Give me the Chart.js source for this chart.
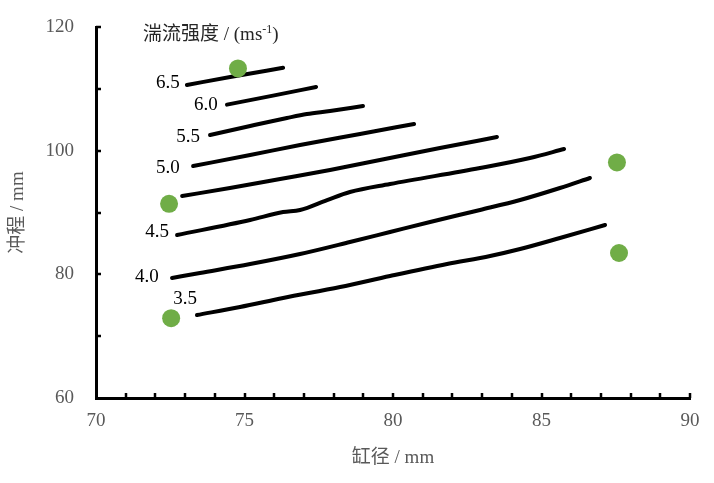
<!DOCTYPE html>
<html><head><meta charset="utf-8">
<script src="https://cdn.jsdelivr.net/npm/chart.js@4/dist/chart.umd.min.js"></script>
<style>html,body{margin:0;padding:0;background:#fff}canvas{display:block}</style>
</head><body>
<canvas id="c" width="714" height="483"></canvas>
<script>
// ---- data ----
const xRange = [70, 90];
const yRange = [60, 120];
const xTickStep = 5, yTickStep = 20;
const xMinorStep = 1, yMinorStep = 10;
const xAxisTitle = '缸径 / mm';
const yAxisTitle = '冲程 / mm';
const legendTitle = '湍流强度 / (ms';
const legendSup = '-1';

const pointsX = [74.78, 72.46, 72.53, 87.54, 87.61];
const pointsY = [113.3, 91.4, 72.9, 98.1, 83.45];

const line65X = [73.06, 74.61, 76.30];
const line65Y = [110.62, 112.0, 113.4];
const line60X = [74.41, 75.96, 77.41];
const line60Y = [107.45, 108.9, 110.30];
const line55X = [73.84, 75.19, 76.43, 77.10, 77.88, 78.99];
const line55Y = [102.54, 103.99, 105.28, 105.92, 106.42, 107.23];
const line50X = [73.27, 75.19, 76.87, 78.89, 80.71];
const line50Y = [97.52, 99.30, 100.92, 102.70, 104.31];
const line47X = [72.90, 74.51, 76.20, 77.88, 79.56, 81.58, 83.50];
const line47Y = [92.67, 93.96, 95.42, 96.88, 98.49, 100.43, 102.21];
const line45X = [72.73, 75.19, 76.30, 76.87, 77.78, 78.55, 79.90, 82.93, 84.61, 85.76];
const line45Y = [86.36, 88.79, 90.08, 90.41, 92.02, 93.32, 94.61, 97.20, 98.82, 100.27];
const line40X = [72.56, 73.50, 75.19, 76.87, 78.55, 79.90, 81.25, 82.93, 84.28, 85.62, 86.63];
const line40Y = [79.41, 80.22, 81.67, 83.29, 85.23, 86.85, 88.47, 90.41, 92.02, 93.96, 95.58];
const line35X = [73.40, 74.85, 76.30, 78.22, 79.90, 81.82, 83.27, 84.28, 85.62, 87.14];
const line35Y = [73.42, 74.72, 76.17, 77.95, 79.73, 81.67, 82.97, 84.10, 85.88, 87.98];

const contourLabels = ['6.5', '6.0', '5.5', '5.0', '4.5', '4.0', '3.5'];
const contourLabelX = [72.42, 73.70, 73.10, 72.42, 72.06, 71.71, 73.0];
const contourLabelY = [110.95, 107.39, 102.21, 97.2, 86.85, 79.57, 76.01];

// ---- build datasets ----
const zip = (xs, ys) => xs.map((x, i) => ({x, y: ys[i]}));
const lineSets = [
  [line65X, line65Y], [line60X, line60Y], [line55X, line55Y], [line50X, line50Y],
  [line47X, line47Y], [line45X, line45Y], [line40X, line40Y], [line35X, line35Y]
];
const datasets = [{
  label: 'points',
  data: zip(pointsX, pointsY),
  showLine: false,
  pointRadius: 9,
  pointHoverRadius: 9,
  pointBackgroundColor: '#70AD47',
  pointBorderWidth: 0,
  borderColor: '#70AD47'
}].concat(lineSets.map((s, i) => ({
  label: 'c' + i,
  data: zip(s[0], s[1]),
  borderColor: '#000',
  borderWidth: 4,
  borderCapStyle: 'round',
  borderJoinStyle: 'round',
  tension: 0.4,
  cubicInterpolationMode: 'monotone',
  pointRadius: 0,
  fill: false
})));

const SERIF = '"Liberation Serif", "Times New Roman", "Noto Sans CJK SC", serif';

const decor = {
  id: 'decor',
  afterDraw(chart) {
    const {ctx, chartArea: a, scales: {x, y}} = chart;
    ctx.save();
    // inward minor ticks
    ctx.strokeStyle = '#000';
    ctx.lineWidth = 2.5;
    ctx.beginPath();
    for (let v = xRange[0] + xMinorStep; v <= xRange[1]; v += xMinorStep) {
      const px = Math.round(x.getPixelForValue(v));
      ctx.moveTo(px, a.bottom); ctx.lineTo(px, a.bottom - 5);
    }
    for (let v = yRange[0] + yMinorStep; v <= yRange[1]; v += yMinorStep) {
      const py = Math.round(y.getPixelForValue(v));
      ctx.moveTo(a.left, py); ctx.lineTo(a.left + 5, py);
    }
    ctx.stroke();
    // contour labels
    ctx.fillStyle = '#000';
    ctx.font = '19px ' + SERIF;
    ctx.textAlign = 'center';
    ctx.textBaseline = 'middle';
    contourLabels.forEach((t, i) => {
      ctx.fillText(t, x.getPixelForValue(contourLabelX[i]), y.getPixelForValue(contourLabelY[i]));
    });
    // legend title
    ctx.textAlign = 'left';
    ctx.textBaseline = 'alphabetic';
    ctx.fillStyle = '#262626';
    const tx = a.left + 47, ty = a.top + 13;
    ctx.font = '19px ' + SERIF;
    ctx.fillText(legendTitle, tx, ty);
    let w = ctx.measureText(legendTitle).width;
    ctx.font = '12px ' + SERIF;
    ctx.fillText(legendSup, tx + w, ty - 7);
    w += ctx.measureText(legendSup).width;
    ctx.font = '19px ' + SERIF;
    ctx.fillText(')', tx + w, ty);
    // axis titles
    ctx.fillStyle = '#595959';
    ctx.font = '19px ' + SERIF;
    ctx.textAlign = 'center';
    ctx.textBaseline = 'middle';
    ctx.fillText(xAxisTitle, (a.left + a.right) / 2, 458);
    ctx.translate(18, (a.top + a.bottom) / 2);
    ctx.rotate(-Math.PI / 2);
    ctx.fillText(yAxisTitle, 0, 0);
    ctx.restore();
  }
};

new Chart(document.getElementById('c'), {
  type: 'line',
  data: {datasets},
  options: {
    responsive: false,
    animation: false,
    devicePixelRatio: 1,
    parsing: true,
    layout: {padding: {top: 27, right: 24, left: 0, bottom: 0}},
    plugins: {legend: {display: false}, tooltip: {enabled: false}},
    scales: {
      x: {
        type: 'linear', min: xRange[0], max: xRange[1],
        grid: {display: false, drawTicks: false},
        border: {display: true, color: '#000', width: 3},
        ticks: {stepSize: xTickStep, padding: 12, color: '#595959', font: {family: SERIF, size: 19}},
        afterFit(s) { s.height = 85; s.paddingLeft = 0; s.paddingRight = 0; }
      },
      y: {
        type: 'linear', min: yRange[0], max: yRange[1],
        grid: {display: false, drawTicks: false},
        border: {display: true, color: '#000', width: 3},
        ticks: {stepSize: yTickStep, padding: 22, color: '#595959', font: {family: SERIF, size: 19}},
        afterFit(s) { s.width = 96; s.paddingTop = 0; s.paddingBottom = 0; }
      }
    }
  },
  plugins: [decor]
});
</script>
</body></html>
